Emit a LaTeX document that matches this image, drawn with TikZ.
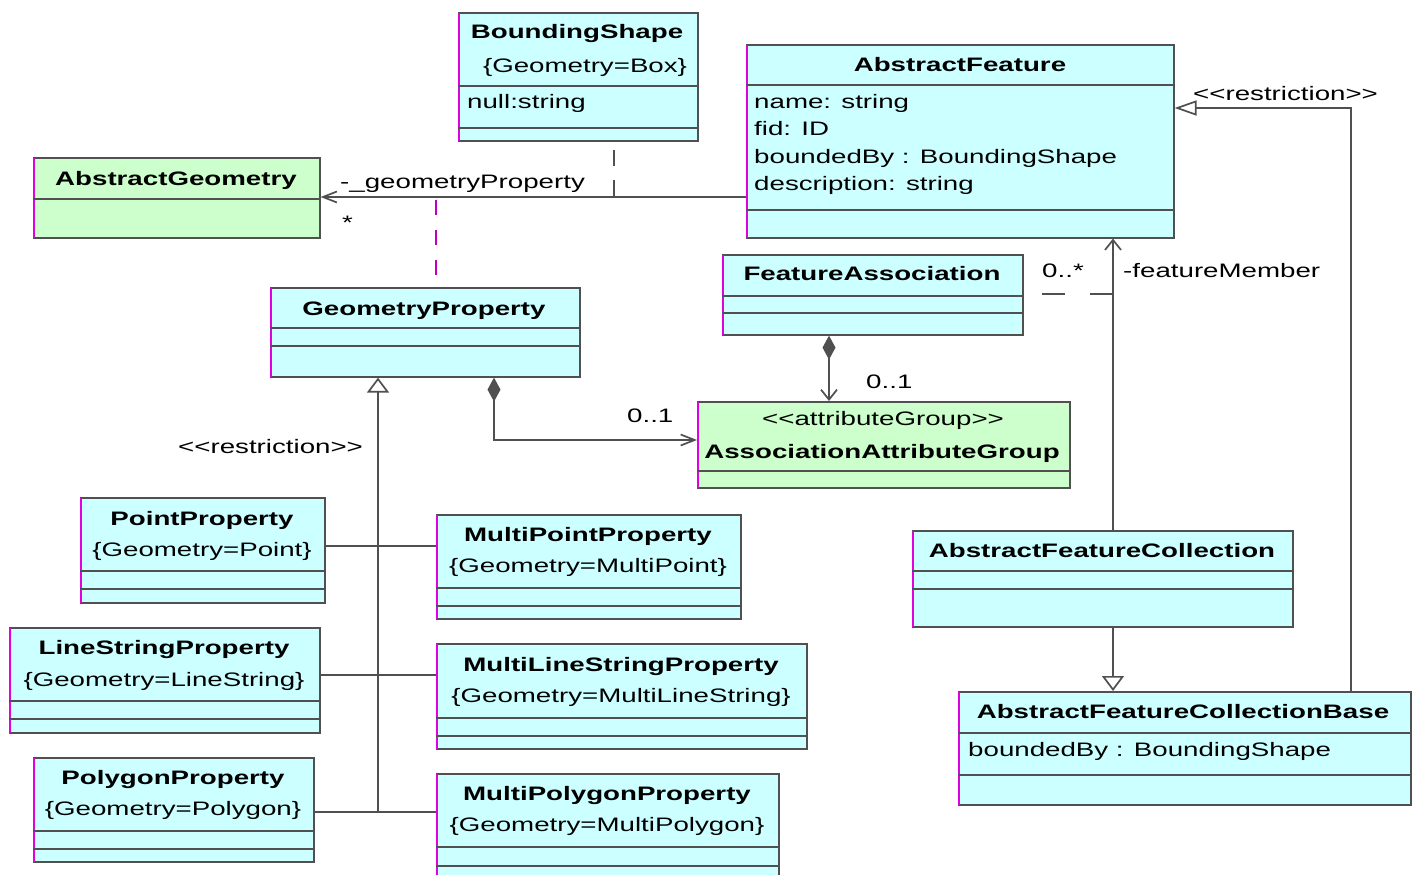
\documentclass[tikz,border=0pt]{standalone}
\usepackage{fontspec}
\setmainfont{Liberation Sans}[FakeStretch=1.42]
\usetikzlibrary{arrows.meta}

\definecolor{clsfill}{HTML}{CCFFFF}
\definecolor{grpfill}{HTML}{CCFFCC}
\definecolor{linegray}{HTML}{505050}
\definecolor{accent}{HTML}{E000E0}

\tikzset{
  umlbox/.style={draw=linegray, line width=1.6pt, rectangle, inner sep=0pt, anchor=north west},
  divline/.style={draw=linegray, line width=1.5pt},
  lbl/.style={inner sep=0pt, font=\fontsize{19.5}{22}\selectfont, anchor=base},
  ttl/.style={lbl, font=\fontsize{19.5}{22}\selectfont\bfseries},
  attr/.style={lbl, anchor=base west},
  link/.style={draw=linegray, line width=1.7pt},
  vgen/.style={link, -{Triangle[open, length=15pt, width=22pt]}},
  hgen/.style={link, -{Triangle[open, length=22pt, width=15pt]}},
  vnav/.style={link, -{Straight Barb[length=10pt, width=16pt]}},
  hnav/.style={link, -{Straight Barb[length=14pt, width=11pt]}},
  vcomp/.style={link, {Diamond[length=24pt, width=13pt]}-{Straight Barb[length=10pt, width=16pt]}},
}

% a class rectangle with its coloured left edge
\newcommand\classbox[6]{%
  \node[umlbox, fill=#6, minimum width={(#4-#2)*1pt}, minimum height={(#5-#3)*1pt}] (#1) at (#2,#3) {};
  \draw[accent, line width=2.4pt] ([xshift=1.2pt,yshift=-0.8pt]#1.north west) -- ([xshift=1.2pt,yshift=0.8pt]#1.south west);
}
% compartment separator inside a class
\newcommand\compsep[2]{\draw[divline] (#1.west |- 0,#2) -- (#1.east |- 0,#2);}

\begin{document}
\begin{tikzpicture}[x=1pt,y=-1pt]
\useasboundingbox (0,0) rectangle (1421,875);

% ---------------- classes ----------------
\classbox{bs}{458}{12}{697}{140}{clsfill}
\compsep{bs}{86}\compsep{bs}{128}
\node[ttl] (bs-n) at (577,39) {BoundingShape};
\node[lbl] (bs-c) at (585,72) {\{Geometry=Box\}};
\node[attr] (bs-a) at (467,108) {null:string};

\classbox{ag}{33}{157}{319}{237}{grpfill}
\compsep{ag}{199}
\node[ttl] (ag-n) at (176,185) {AbstractGeometry};

\classbox{af}{746}{44}{1173}{237}{clsfill}
\compsep{af}{85}\compsep{af}{210}
\node[ttl] (af-n) at (960,71) {AbstractFeature};
\node[attr] (af-a1) at (754,108) {name: string};
\node[attr] (af-a2) at (754,135) {fid: ID};
\node[attr] (af-a3) at (754,163) {boundedBy : BoundingShape};
\node[attr] (af-a4) at (754,190) {description: string};

\classbox{gp}{270}{287}{579}{376}{clsfill}
\compsep{gp}{328}\compsep{gp}{346}
\node[ttl] (gp-n) at (424,315) {GeometryProperty};

\classbox{fa}{722}{254}{1022}{334}{clsfill}
\compsep{fa}{296}\compsep{fa}{313}
\node[ttl] (fa-n) at (872,280) {FeatureAssociation};

\classbox{aag}{697}{401}{1069}{487}{grpfill}
\compsep{aag}{471}
\node[lbl] (aag-s) at (883,425) {<{}<attributeGroup>{}>};
\node[ttl] (aag-n) at (882,458) {AssociationAttributeGroup};

\classbox{afc}{912}{530}{1292}{626}{clsfill}
\compsep{afc}{571}\compsep{afc}{589}
\node[ttl] (afc-n) at (1102,557) {AbstractFeatureCollection};

\classbox{afcb}{958}{691}{1410}{804}{clsfill}
\compsep{afcb}{733}\compsep{afcb}{775}
\node[ttl] (afcb-n) at (1183,718) {AbstractFeatureCollectionBase};
\node[attr] (afcb-a) at (968,756) {boundedBy : BoundingShape};

\classbox{pt}{80}{497}{324}{602}{clsfill}
\compsep{pt}{571}\compsep{pt}{589}
\node[ttl] (pt-n) at (202,525) {PointProperty};
\node[lbl] (pt-c) at (202,556) {\{Geometry=Point\}};

\classbox{mpt}{436}{514}{740}{618}{clsfill}
\compsep{mpt}{588}\compsep{mpt}{606}
\node[ttl] (mpt-n) at (588,541) {MultiPointProperty};
\node[lbl] (mpt-c) at (588,572) {\{Geometry=MultiPoint\}};

\classbox{ls}{9}{627}{319}{732}{clsfill}
\compsep{ls}{701}\compsep{ls}{719}
\node[ttl] (ls-n) at (164,654) {LineStringProperty};
\node[lbl] (ls-c) at (164,686) {\{Geometry=LineString\}};

\classbox{mls}{436}{643}{806}{748}{clsfill}
\compsep{mls}{718}\compsep{mls}{736}
\node[ttl] (mls-n) at (621,671) {MultiLineStringProperty};
\node[lbl] (mls-c) at (621,702) {\{Geometry=MultiLineString\}};

\classbox{pg}{33}{757}{313}{861}{clsfill}
\compsep{pg}{831}\compsep{pg}{849}
\node[ttl] (pg-n) at (173,784) {PolygonProperty};
\node[lbl] (pg-c) at (173,815) {\{Geometry=Polygon\}};

\classbox{mpg}{436}{773}{778}{890}{clsfill}
\compsep{mpg}{847}\compsep{mpg}{866}
\node[ttl] (mpg-n) at (607,800) {MultiPolygonProperty};
\node[lbl] (mpg-c) at (607,831) {\{Geometry=MultiPolygon\}};

% ---------------- connectors ----------------
% geometry property association
\coordinate (geo) at (0,197);
\draw[hnav] (af.west |- geo) -- (ag.east |- geo);
\node[attr] (geo-role) at (340,188) {-\_geometryProperty};
\node[attr] (geo-mult) at (342,229) {*};

% link from BoundingShape onto the association
\coordinate (bsx) at (614,0);
\draw[link, dash pattern=on 16pt off 14pt, shorten <=8pt] (bs.south -| bsx) -- (bsx |- geo);

% association class link to GeometryProperty
\coordinate (gpx) at (436,0);
\draw[accent!85!black, line width=2.8pt, dash pattern=on 15pt off 15pt, dash phase=-3pt] (gpx |- geo) -- (gp.north -| gpx);

% specialisations of GeometryProperty
\coordinate (j1) at (378,546);
\coordinate (j2) at (378,675);
\coordinate (j3) at (378,812);
\draw[link] (pt.east |- j1) -- (mpt.west |- j1);
\draw[link] (ls.east |- j2) -- (mls.west |- j2);
\draw[link] (pg.east |- j3) -- (mpg.west |- j3);
\draw[vgen] (j3) -- (gp.south -| j3);
\node[attr] (gp-restr) at (178,453) {<{}<restriction>{}>};

% compositions with AssociationAttributeGroup
\coordinate (c1) at (494,440);
\draw[link, {Diamond[length=24pt, width=13pt]}-{Straight Barb[length=14pt, width=11pt]}] (gp.south -| c1) |- (aag.west |- c1);
\node[attr] (c1-mult) at (627,422) {0..1};
\coordinate (c2) at (829,0);
\draw[vcomp] (fa.south -| c2) -- (aag.north -| c2);
\node[attr] (c2-mult) at (866,388) {0..1};

% feature members
\coordinate (fm) at (1113,0);
\draw[vnav] (afc.north -| fm) -- (af.south -| fm);
\node[attr] (fm-mult) at (1042,277) {0..*};
\node[attr] (fm-role) at (1123,277) {-featureMember};
\coordinate (fmq) at (1042,294);
\draw[link, dash pattern=on 23pt off 25pt] (fmq) -- (fmq -| fm);

% collection base
\draw[vgen] (afc.south -| fm) -- (afcb.north -| fm);
\coordinate (rx) at (1351,108);
\draw[hgen] (afcb.north -| rx) -- (rx) -- (af.east |- rx);
\node[attr] (af-restr) at (1193,100) {<{}<restriction>{}>};

\end{tikzpicture}
\end{document}
